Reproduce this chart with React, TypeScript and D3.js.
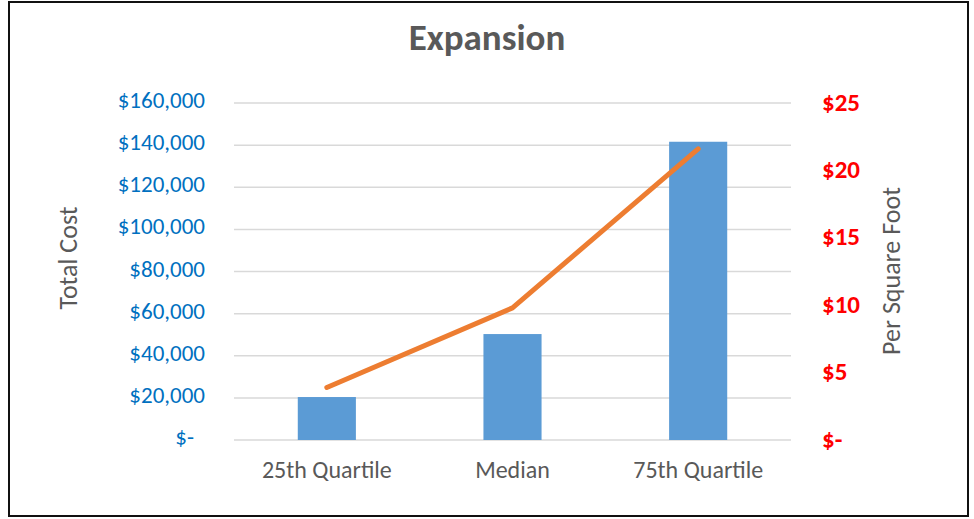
import { useEffect, useRef } from 'react';
import * as d3 from 'd3';

const categories = ['25th Quartile', 'Median', '75th Quartile'];
const totalCost = [20400, 50300, 141600];
const perSquareFoot = [3.9, 9.8, 21.6];
const costTicks = [0, 20000, 40000, 60000, 80000, 100000, 120000, 140000, 160000];
const sqftTicks = [0, 5, 10, 15, 20, 25];

const FONT = "Carlito, 'Open Sans', 'Noto Sans', sans-serif";

export default function App() {
  const svgRef = useRef<SVGSVGElement>(null);

  useEffect(() => {
    if (!svgRef.current) return;
    const svg = d3.select(svgRef.current);
    svg.selectAll('*').remove();

    const width = 974;
    const height = 519;
    const left = 234, right = 791, top = 103, bottom = 440;

    svg.append('rect')
      .attr('x', 0).attr('y', 0).attr('width', width).attr('height', height)
      .attr('fill', '#fff');

    // chart border
    svg.append('rect')
      .attr('x', 9).attr('y', 2).attr('width', 959).attr('height', 514)
      .attr('fill', 'none').attr('stroke', '#111').attr('stroke-width', 2);

    const x = d3.scaleBand<string>()
      .domain(categories)
      .range([left, right])
      .paddingInner(0).paddingOuter(0);

    const yCost = d3.scaleLinear().domain([0, 160000]).range([bottom, top]);
    const ySqft = d3.scaleLinear().domain([0, 25]).range([bottom, top]);

    // gridlines
    svg.append('g')
      .selectAll('line')
      .data(costTicks)
      .join('line')
      .attr('x1', left).attr('x2', right)
      .attr('y1', d => yCost(d)).attr('y2', d => yCost(d))
      .attr('stroke', '#D9D9D9').attr('stroke-width', 1.5);

    // bars
    const barW = x.bandwidth() * 0.313;
    svg.append('g')
      .selectAll('rect')
      .data(totalCost)
      .join('rect')
      .attr('x', (d, i) => x(categories[i])! + x.bandwidth() / 2 - barW / 2)
      .attr('y', d => yCost(d))
      .attr('width', barW)
      .attr('height', d => bottom - yCost(d))
      .attr('fill', '#5B9BD5');

    // line
    const line = d3.line<number>()
      .x((d, i) => x(categories[i])! + x.bandwidth() / 2)
      .y(d => ySqft(d));
    svg.append('path')
      .datum(perSquareFoot)
      .attr('d', line)
      .attr('fill', 'none')
      .attr('stroke', '#ED7D31')
      .attr('stroke-width', 5)
      .attr('stroke-linecap', 'round')
      .attr('stroke-linejoin', 'round');

    // left axis labels
    svg.append('g')
      .selectAll('text')
      .data(costTicks)
      .join('text')
      .attr('x', d => (d === 0 ? 194 : 205))
      .attr('y', d => yCost(d))
      .attr('dy', '0.22em')
      .attr('text-anchor', 'end')
      .attr('font-family', FONT)
      .attr('font-size', 23)
      .attr('fill', '#0070C0')
      .text(d => (d === 0 ? '$-' : '$' + d3.format(',')(d)));

    // right axis labels
    svg.append('g')
      .selectAll('text')
      .data(sqftTicks)
      .join('text')
      .attr('x', 822)
      .attr('y', d => ySqft(d))
      .attr('dy', '0.3em')
      .attr('text-anchor', 'start')
      .attr('font-family', FONT)
      .attr('font-size', 25)
      .attr('font-weight', 'bold')
      .attr('fill', '#FF0000')
      .text(d => (d === 0 ? '$-' : '$' + d));

    // category labels
    svg.append('g')
      .selectAll('text')
      .data(categories)
      .join('text')
      .attr('x', d => x(d)! + x.bandwidth() / 2)
      .attr('y', 478)
      .attr('text-anchor', 'middle')
      .attr('font-family', FONT)
      .attr('font-size', 24)
      .attr('fill', '#595959')
      .text(d => d);

    // title
    svg.append('text')
      .attr('x', 487).attr('y', 50)
      .attr('text-anchor', 'middle')
      .attr('font-family', FONT)
      .attr('font-size', 37)
      .attr('font-weight', 'bold')
      .attr('fill', '#595959')
      .text('Expansion');

    // axis titles
    svg.append('text')
      .attr('transform', 'translate(77,258) rotate(-90)')
      .attr('text-anchor', 'middle')
      .attr('font-family', FONT)
      .attr('font-size', 26)
      .attr('fill', '#595959')
      .text('Total Cost');

    svg.append('text')
      .attr('transform', 'translate(900,271) rotate(-90)')
      .attr('text-anchor', 'middle')
      .attr('font-family', FONT)
      .attr('font-size', 26)
      .attr('fill', '#595959')
      .text('Per Square Foot');
  }, []);

  return (
    <svg
      ref={svgRef}
      width={974}
      height={519}
      style={{ position: 'absolute', left: 0, top: 0, display: 'block' }}
    />
  );
}
